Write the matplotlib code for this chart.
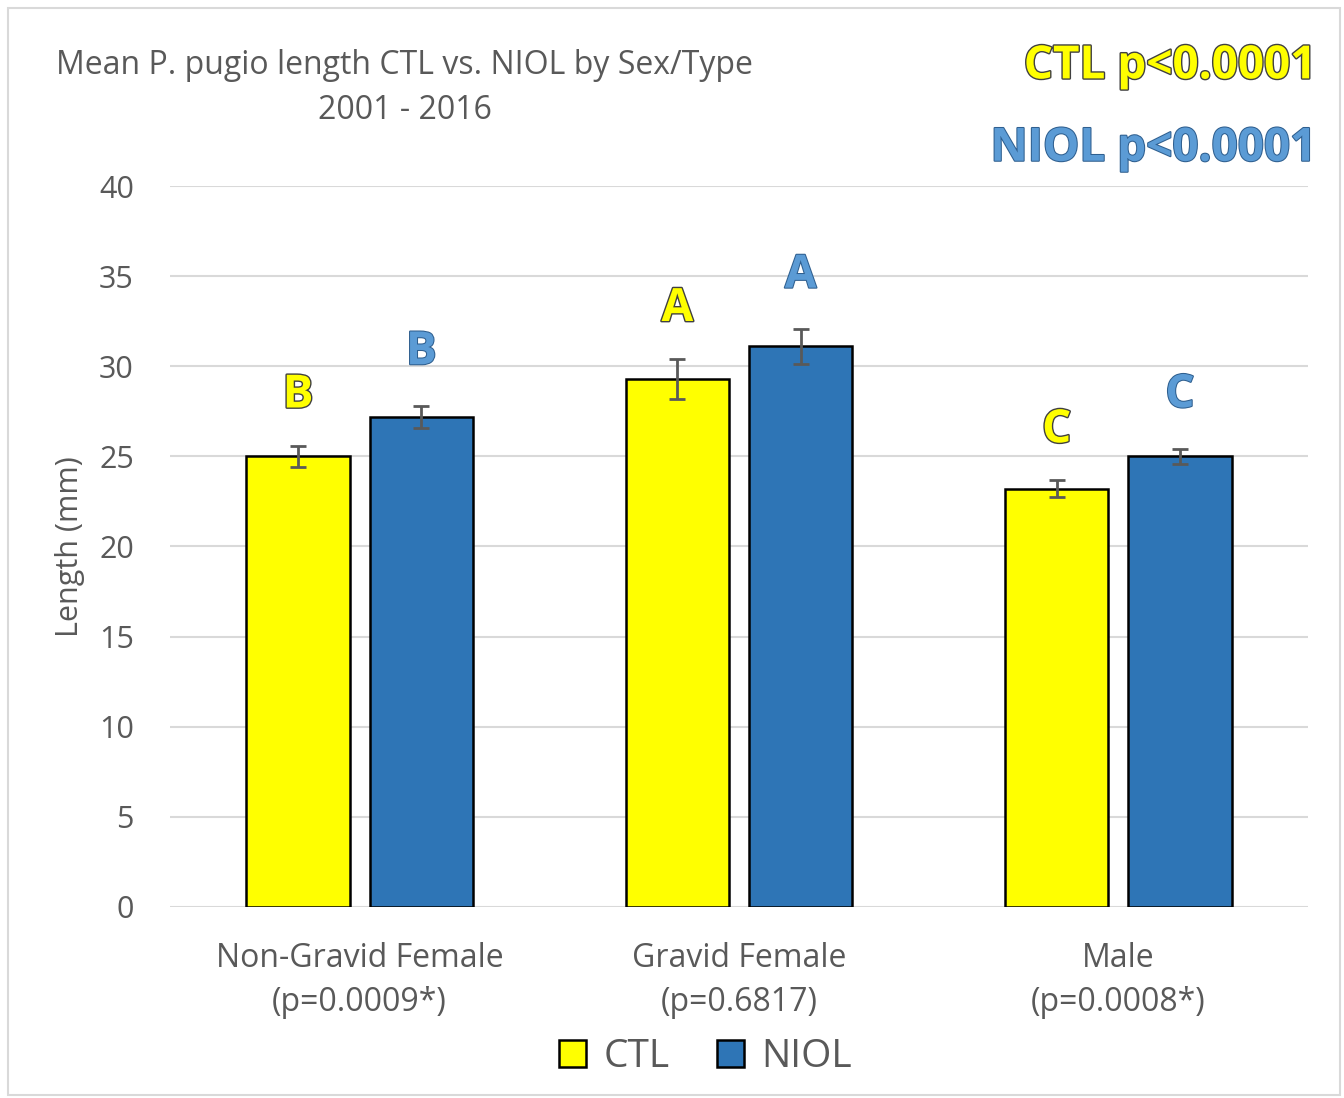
import matplotlib.pyplot as plt
import matplotlib.patheffects as pe
from matplotlib.patches import Rectangle
import numpy as np

plt.rcParams['font.family'] = ['Open Sans', 'DejaVu Sans']

# data
categories = ["Non-Gravid Female\n(p=0.0009*)", "Gravid Female\n(p=0.6817)", "Male\n(p=0.0008*)"]
ctl_mean = [25.0, 29.3, 23.2]
ctl_err = [0.6, 1.1, 0.47]
niol_mean = [27.2, 31.1, 25.0]
niol_err = [0.6, 0.95, 0.42]
ctl_letters = ["B", "A", "C"]
niol_letters = ["B", "A", "C"]

ctl_color = "#FFFF00"
niol_color = "#2E75B6"
text_gray = "#595959"

fig = plt.figure(figsize=(13.44, 10.98), dpi=100)
ax = fig.add_axes([0.1265, 0.174, 0.8467, 0.6566])

x = np.arange(len(categories))
w = 0.272
gap = 0.053
off = (w + gap) / 2

ax.bar(x - off, ctl_mean, w, color=ctl_color, edgecolor="black", linewidth=1.8, label="CTL", zorder=3)
ax.bar(x + off, niol_mean, w, color=niol_color, edgecolor="black", linewidth=1.8, label="NIOL", zorder=3)
ax.errorbar(x - off, ctl_mean, yerr=ctl_err, fmt="none", ecolor=text_gray, elinewidth=2, capsize=6, capthick=2, zorder=4)
ax.errorbar(x + off, niol_mean, yerr=niol_err, fmt="none", ecolor=text_gray, elinewidth=2, capsize=6, capthick=2, zorder=4)

# significance letters above the bars
for i in range(len(categories)):
    ax.text(x[i] - off, ctl_mean[i] + ctl_err[i] + 1.5, ctl_letters[i], ha="center", va="bottom",
            fontsize=33, fontweight="bold", color=ctl_color,
            path_effects=[pe.withStroke(linewidth=2, foreground="#404040")], zorder=5)
    ax.text(x[i] + off, niol_mean[i] + niol_err[i] + 1.7, niol_letters[i], ha="center", va="bottom",
            fontsize=33, fontweight="bold", color="#5B9BD5",
            path_effects=[pe.withStroke(linewidth=1.5, foreground="#2F5F8F")], zorder=5)

ax.set_xlim(-0.5, 2.5)
ax.set_ylim(0, 40)
ax.set_yticks(range(0, 41, 5))
ax.yaxis.grid(True, color="#D9D9D9", linewidth=1.5, zorder=0)
ax.set_axisbelow(True)
for s in ax.spines.values():
    s.set_visible(False)
ax.tick_params(axis="y", length=0, labelsize=22, colors=text_gray, pad=26)
ax.tick_params(axis="x", length=0, labelsize=23, colors=text_gray, pad=25)
ax.set_xticks(x)
ax.set_xticklabels(categories, linespacing=1.45)
ax.set_ylabel("Length (mm)", fontsize=22, color=text_gray, labelpad=10)

fig.text(0.301, 0.92, "Mean P. pugio length CTL vs. NIOL by Sex/Type\n2001 - 2016", ha="center", va="center",
         fontsize=23, color=text_gray, linespacing=1.5)

fig.text(0.98, 0.94, "CTL p<0.0001", ha="right", va="center", fontsize=33, fontweight="bold",
         color=ctl_color, path_effects=[pe.withStroke(linewidth=2, foreground="#404040")])
fig.text(0.98, 0.865, "NIOL p<0.0001", ha="right", va="center", fontsize=33, fontweight="bold",
         color="#5B9BD5", path_effects=[pe.withStroke(linewidth=1.5, foreground="#2F5F8F")])

leg = fig.legend(loc="center", bbox_to_anchor=(0.525, 0.037), ncol=2, frameon=False, fontsize=28,
                 handlelength=0.7, handleheight=0.7, handletextpad=0.45, columnspacing=1.2, labelcolor=text_gray)

# outer frame of the chart area
fig.patches.append(Rectangle((0.006, 0.003), 0.991, 0.99, transform=fig.transFigure, fill=False,
                             edgecolor="#D9D9D9", linewidth=1.5))

fig.savefig("out.png", dpi=100)
